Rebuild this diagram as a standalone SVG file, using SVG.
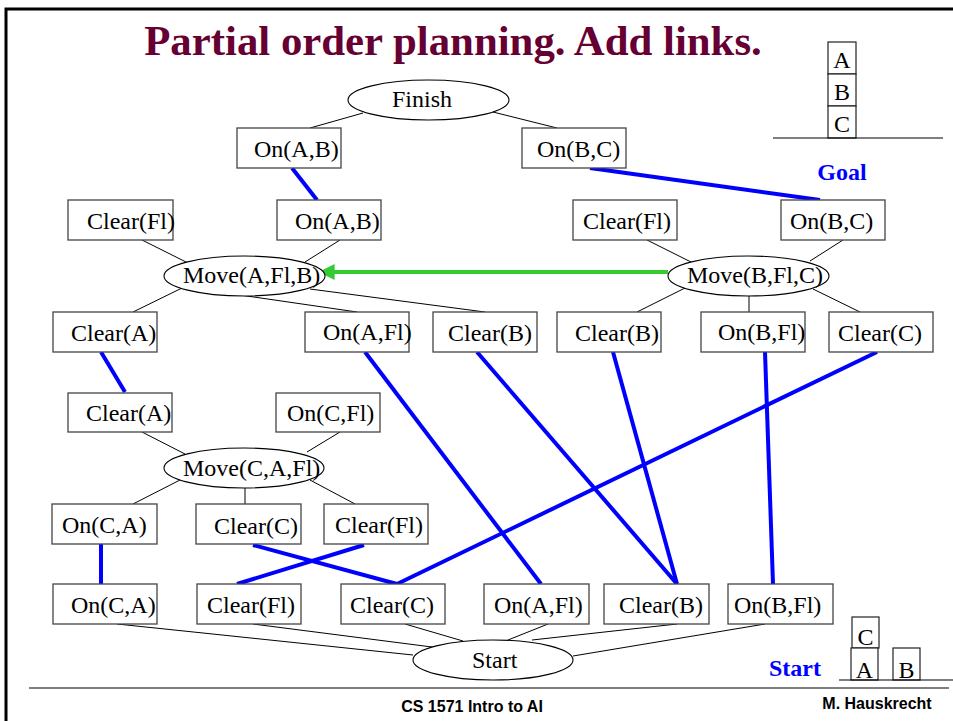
<svg xmlns="http://www.w3.org/2000/svg" width="953" height="721" viewBox="0 0 953 721">
<defs>
<style>
.bg{fill:#ffffff}
.box{fill:#ffffff;stroke:#444;stroke-width:1.3}
.ell{fill:#ffffff;stroke:#000;stroke-width:1.1}
.t{font-family:"Liberation Serif","Times New Roman",serif;font-size:24px;fill:#000}
.title{font-family:"Liberation Serif","Times New Roman",serif;font-size:42.8px;font-weight:bold;fill:#660033}
.lbl{font-family:"Liberation Serif","Times New Roman",serif;font-size:24px;font-weight:bold;fill:#0000ff}
.foot{font-family:"Liberation Sans",Arial,sans-serif;font-size:16px;font-weight:bold;fill:#000}
.thin{stroke:#000;stroke-width:1;fill:none}
.link{stroke:#0000ff;stroke-width:4;fill:none}
.order{stroke:#33cc33;stroke-width:4;fill:none}
.frame{stroke:#000;stroke-width:3;fill:none}
.rule{stroke:#000;stroke-width:1.2;fill:none}
.blk{fill:#fff;stroke:#222;stroke-width:1.2}
</style>
<marker id="ga" viewBox="0 0 10 10" refX="1" refY="5" markerWidth="4" markerHeight="4" orient="auto-start-reverse" markerUnits="strokeWidth">
<path d="M0,0 L10,5 L0,10 z" fill="#33cc33"/>
</marker>
</defs>
<rect class="bg" x="0" y="0" width="953" height="721"/>
<path class="frame" d="M6,721 V9 H953"/>
<text class="title" x="453" y="55" text-anchor="middle">Partial order planning. Add links.</text>

<g id="goal-world">
<rect class="blk" x="828" y="42" width="28" height="32"/>
<rect class="blk" x="828" y="74" width="28" height="32"/>
<rect class="blk" x="828" y="106" width="28" height="32"/>
<text class="t" x="842" y="68" text-anchor="middle">A</text>
<text class="t" x="842" y="100" text-anchor="middle">B</text>
<text class="t" x="842" y="132" text-anchor="middle">C</text>
<line class="rule" x1="773" y1="138" x2="943" y2="138"/>
<text class="lbl" x="842" y="180" text-anchor="middle">Goal</text>
</g>

<g id="start-world">
<rect class="blk" x="852" y="617" width="27" height="31"/>
<rect class="blk" x="851" y="648" width="27" height="32"/>
<rect class="blk" x="893" y="648" width="27" height="32"/>
<text class="t" x="865.5" y="645" text-anchor="middle">C</text>
<text class="t" x="864.5" y="678" text-anchor="middle">A</text>
<text class="t" x="906.5" y="678" text-anchor="middle">B</text>
<line class="rule" x1="839" y1="680" x2="953" y2="680"/>
<text class="lbl" x="795" y="676" text-anchor="middle">Start</text>
</g>

<g id="connectors">
<line class="thin" x1="363" y1="113" x2="310" y2="128"/>
<line class="thin" x1="493" y1="112" x2="557" y2="128"/>
<line class="thin" x1="142" y1="240" x2="188" y2="263"/>
<line class="thin" x1="340" y1="240" x2="305" y2="262"/>
<line class="thin" x1="647" y1="240" x2="693" y2="263"/>
<line class="thin" x1="843" y1="240" x2="810" y2="261"/>
<line class="thin" x1="182" y1="288" x2="133" y2="312"/>
<line class="thin" x1="240" y1="295" x2="357" y2="312"/>
<line class="thin" x1="310" y1="289" x2="485" y2="312"/>
<line class="thin" x1="685" y1="288" x2="637" y2="312"/>
<line class="thin" x1="749" y1="296" x2="749" y2="312"/>
<line class="thin" x1="813" y1="289" x2="860" y2="312"/>
<line class="thin" x1="142" y1="432" x2="185" y2="454"/>
<line class="thin" x1="340" y1="432" x2="307" y2="452"/>
<line class="thin" x1="180" y1="480" x2="133" y2="504"/>
<line class="thin" x1="245" y1="488" x2="245" y2="504"/>
<line class="thin" x1="310" y1="480" x2="355" y2="504"/>
<line class="thin" x1="117" y1="624" x2="413" y2="655"/>
<line class="thin" x1="253" y1="624" x2="432" y2="647"/>
<line class="thin" x1="405" y1="624" x2="463" y2="641"/>
<line class="thin" x1="548" y1="624" x2="508" y2="640"/>
<line class="thin" x1="677" y1="624" x2="532" y2="640"/>
<line class="thin" x1="765" y1="624" x2="573" y2="656"/>
<line class="link" x1="292" y1="168" x2="317" y2="200"/>
<line class="link" x1="590" y1="168" x2="820" y2="200"/>
<line class="link" x1="101" y1="352" x2="125" y2="392"/>
<line class="link" x1="365" y1="352" x2="541" y2="584"/>
<line class="link" x1="477" y1="352" x2="677" y2="584"/>
<line class="link" x1="613" y1="352" x2="677" y2="584"/>
<line class="link" x1="765" y1="352" x2="773" y2="584"/>
<line class="link" x1="877" y1="352" x2="397" y2="584"/>
<line class="link" x1="101" y1="544" x2="101" y2="584"/>
<line class="link" x1="253" y1="545" x2="397" y2="584"/>
<line class="link" x1="364" y1="545" x2="237" y2="584"/>
<line class="order" x1="668" y1="272" x2="333" y2="272" marker-end="url(#ga)"/>
</g>

<g id="finish"><ellipse class="ell" cx="428.5" cy="100" rx="80.5" ry="20"/><text class="t" x="392" y="107">Finish</text></g>
<g id="g-onAB"><rect class="box" x="237" y="128" width="104" height="40"/><text class="t" x="254" y="157">On(A,B)</text></g>
<g id="g-onBC"><rect class="box" x="522" y="128" width="104" height="40"/><text class="t" x="537" y="157">On(B,C)</text></g>

<g id="m1-clearFl"><rect class="box" x="68" y="200" width="105" height="40"/><text class="t" x="87" y="229">Clear(Fl)</text></g>
<g id="m1-onAB"><rect class="box" x="277" y="200" width="104" height="40"/><text class="t" x="295" y="229">On(A,B)</text></g>
<g id="m2-clearFl"><rect class="box" x="573" y="200" width="104" height="40"/><text class="t" x="583" y="229">Clear(Fl)</text></g>
<g id="m2-onBC"><rect class="box" x="781" y="200" width="104" height="40"/><text class="t" x="790" y="229">On(B,C)</text></g>

<g id="moveAFlB"><ellipse class="ell" cx="244.5" cy="276" rx="80.5" ry="20"/><text class="t" x="183" y="283">Move(A,Fl,B)</text></g>
<g id="moveBFlC"><ellipse class="ell" cx="748.5" cy="276" rx="80.5" ry="20"/><text class="t" x="687" y="283">Move(B,Fl,C)</text></g>

<g id="p1-clearA"><rect class="box" x="53" y="312" width="104" height="40"/><text class="t" x="71" y="341">Clear(A)</text></g>
<g id="p1-onAFl"><rect class="box" x="305" y="312" width="104" height="40"/><text class="t" x="323" y="340">On(A,Fl)</text></g>
<g id="p1-clearB"><rect class="box" x="433" y="312" width="104" height="40"/><text class="t" x="448" y="341">Clear(B)</text></g>
<g id="p2-clearB"><rect class="box" x="557" y="312" width="104" height="40"/><text class="t" x="575" y="341">Clear(B)</text></g>
<g id="p2-onBFl"><rect class="box" x="701" y="312" width="104" height="40"/><text class="t" x="718" y="340">On(B,Fl)</text></g>
<g id="p2-clearC"><rect class="box" x="829" y="312" width="104" height="40"/><text class="t" x="838" y="341">Clear(C)</text></g>

<g id="p3-clearA"><rect class="box" x="68" y="393" width="104" height="39"/><text class="t" x="86" y="421">Clear(A)</text></g>
<g id="p3-onCFl"><rect class="box" x="276" y="393" width="104" height="39"/><text class="t" x="287" y="421">On(C,Fl)</text></g>

<g id="moveCAFl"><ellipse class="ell" cx="244" cy="468" rx="80" ry="20"/><text class="t" x="183" y="476">Move(C,A,Fl)</text></g>

<g id="e3-onCA"><rect class="box" x="52" y="504" width="105" height="40"/><text class="t" x="62" y="533">On(C,A)</text></g>
<g id="e3-clearC"><rect class="box" x="196" y="504" width="105" height="40"/><text class="t" x="214" y="534">Clear(C)</text></g>
<g id="e3-clearFl"><rect class="box" x="324" y="504" width="104" height="40"/><text class="t" x="335" y="533">Clear(Fl)</text></g>

<g id="s-onCA"><rect class="box" x="53" y="584" width="104" height="40"/><text class="t" x="71" y="613">On(C,A)</text></g>
<g id="s-clearFl"><rect class="box" x="197" y="584" width="104" height="40"/><text class="t" x="207" y="613">Clear(Fl)</text></g>
<g id="s-clearC"><rect class="box" x="341" y="584" width="104" height="40"/><text class="t" x="350" y="613">Clear(C)</text></g>
<g id="s-onAFl"><rect class="box" x="484" y="584" width="105" height="40"/><text class="t" x="494" y="613">On(A,Fl)</text></g>
<g id="s-clearB"><rect class="box" x="604" y="584" width="105" height="40"/><text class="t" x="619" y="613">Clear(B)</text></g>
<g id="s-onBFl"><rect class="box" x="728" y="584" width="105" height="40"/><text class="t" x="734" y="613">On(B,Fl)</text></g>

<g id="start"><ellipse class="ell" cx="493" cy="660" rx="80" ry="20"/><text class="t" x="472" y="668">Start</text></g>

<line class="rule" x1="29" y1="688" x2="949" y2="688"/>
<text class="foot" x="472" y="712" text-anchor="middle">CS 1571 Intro to AI</text>
<text class="foot" x="877" y="709" text-anchor="middle">M. Hauskrecht</text>
</svg>
